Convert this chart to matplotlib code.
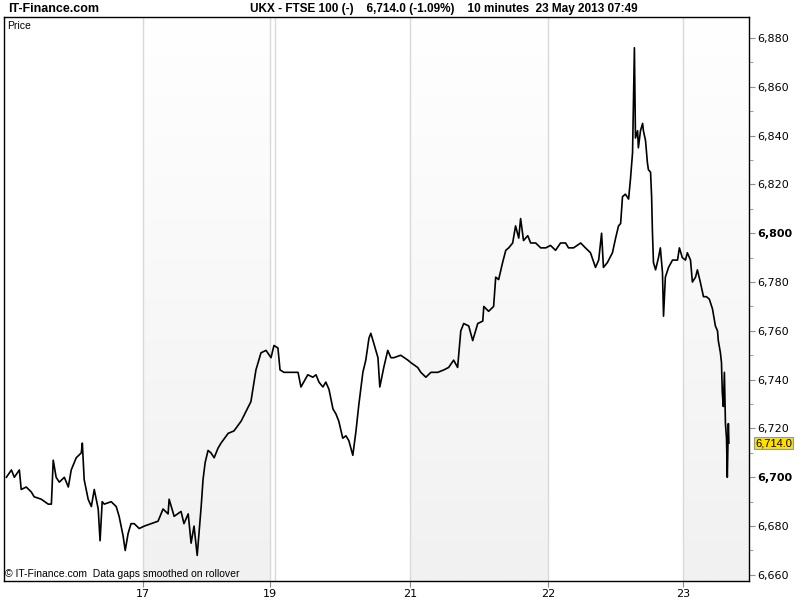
import matplotlib
matplotlib.use("Agg")
import matplotlib.pyplot as plt
import matplotlib.transforms as mtransforms
from matplotlib.colors import LinearSegmentedColormap
from matplotlib.ticker import MultipleLocator, FuncFormatter
import numpy as np

# UKX 10-minute bars, x = bar number in trading time, y = price
bars = [0.4, 2.3, 3.4, 5.3, 6.0, 7.9, 9.8, 10.9, 13.6, 16.2, 17.4, 18.1, 19.2, 20.4,
        22.3, 23.8, 24.9, 26.8, 28.7, 29.1, 29.8, 31.3, 32.5, 33.6, 35.1, 35.8, 36.6,
        37.4, 40.0, 41.9, 43.0, 44.5, 45.3, 46.4, 47.5, 48.7, 50.6,
        52.5, 55.1, 57.7, 59.6, 61.5, 61.9, 63.8, 66.4, 67.5, 69.1, 70.2, 71.3, 72.5,
        74.0, 74.7, 75.5, 76.6, 77.7, 78.9, 80.4, 81.5, 84.2, 86.4, 89.1, 92.8, 94.7,
        96.6, 98.5,
        100.4, 101.5,
        103.0, 103.8, 105.3, 107.9, 110.6, 111.7, 114.3, 116.2, 117.4, 118.5, 120.0,
        121.1, 122.3, 123.8, 124.9, 126.0, 127.5, 128.7, 129.8, 131.3, 132.5, 133.6,
        135.1, 136.2, 137.4, 138.1, 139.2, 140.8, 141.5, 143.0, 144.5, 145.7, 146.8,
        149.4, 152.1,
        153.2, 155.8, 157.0, 158.9, 160.8, 163.4, 165.7, 167.5, 169.4, 170.9, 172.1,
        173.2, 175.1, 176.6, 178.5, 180.4, 180.8, 182.6, 184.5, 185.3, 186.4, 187.9,
        189.1, 190.2, 191.7, 192.8, 194.0, 194.7, 195.8, 197.4, 198.5, 200.4, 202.3,
        204.2,
        206.0, 207.9, 209.8, 211.7, 212.8, 214.7, 217.4, 219.2, 221.1, 223.0, 224.2,
        225.3, 226.0, 227.5, 229.4, 230.6, 231.7, 232.5, 233.2, 234.3, 235.5, 236.2,
        237.0, 237.4, 237.7, 238.1, 238.9, 239.2, 240.0, 240.8, 241.1, 241.9, 242.6,
        243.0, 243.8, 244.2, 244.5, 244.9, 245.7, 246.8, 247.5, 248.3, 248.7, 249.4,
        250.6, 252.1, 254.0, 254.7, 255.8,
        257.0, 257.7, 258.9, 259.6, 260.8, 261.5, 262.6, 263.8, 264.9, 266.0, 267.2,
        268.3, 269.1, 269.4, 270.2, 270.6, 270.9, 271.3, 271.7, 272.1, 272.5, 272.8,
        273.2, 273.4]
price = [6700, 6703, 6700, 6703, 6695, 6696, 6694, 6692, 6691, 6689, 6689, 6707, 6700, 6698,
         6700, 6696, 6703, 6708, 6710, 6714, 6699, 6691, 6688, 6695, 6687, 6674, 6690,
         6689, 6690, 6688, 6684, 6676, 6670, 6677, 6681, 6681, 6679,
         6680, 6681, 6682, 6687, 6685, 6691, 6684, 6686, 6681, 6685, 6673, 6680, 6668,
         6688, 6699, 6706, 6711, 6710, 6708, 6712, 6714, 6718, 6719, 6723, 6731, 6744,
         6751, 6752,
         6749, 6754,
         6753, 6744, 6743, 6743, 6743, 6737, 6742, 6741, 6742, 6739, 6737,
         6739, 6736, 6728, 6726, 6723, 6716, 6717, 6715, 6709, 6719, 6730,
         6743, 6748, 6757, 6759, 6755, 6749, 6737, 6745, 6752, 6749, 6749,
         6750, 6748,
         6747, 6745, 6743, 6741, 6743, 6743, 6744, 6745, 6748, 6745, 6760,
         6763, 6762, 6756, 6763, 6764, 6770, 6768, 6770, 6782, 6781, 6788,
         6793, 6794, 6796, 6803, 6798, 6806, 6797, 6799, 6796, 6796, 6794,
         6794,
         6795, 6793, 6796, 6796, 6794, 6794, 6796, 6794, 6792, 6786, 6789,
         6800, 6786, 6788, 6792, 6798, 6803, 6804, 6815, 6816, 6814, 6822,
         6833, 6859, 6876, 6839, 6842, 6835, 6842, 6845, 6842, 6838, 6829,
         6826, 6825, 6815, 6801, 6788, 6785, 6790, 6794, 6784, 6766, 6782,
         6786, 6789, 6789, 6794, 6790,
         6789, 6792, 6789, 6780, 6782, 6785, 6780, 6774, 6774, 6773, 6769,
         6762, 6760, 6756, 6751, 6747, 6735, 6729, 6743, 6722, 6716, 6700,
         6722, 6714]

# first bar of each trading day (May 2013)
day_labels = ["16", "17", "19", "20", "21", "22", "23"]
day_start = [0, 52, 100, 102, 153, 205, 256]
day_shaded = [False, True, False, False, True, False, True]
tick_days = ["17", "19", "21", "22", "23"]
last_price = 6714.0
x_end = 281
y_lo, y_hi = 6657.5, 6888.6

fig = plt.figure(figsize=(8, 6), dpi=100)
ax = fig.add_axes([4 / 800, 19 / 600, 745 / 800, 564 / 600])

# alternating day background, shaded days fade to grey at the bottom
shade = LinearSegmentedColormap.from_list("shade", ["#ffffff", "#f1f1f1"])
grad = np.linspace(0, 1, 256).reshape(-1, 1)
bounds = day_start + [x_end]
for i, lab in enumerate(day_labels):
    if day_shaded[i]:
        ax.imshow(grad, cmap=shade, aspect="auto", origin="upper",
                  extent=[bounds[i], bounds[i + 1], y_lo, y_hi], zorder=0)
for s in day_start[1:]:
    ax.axvline(s, color="#d9d9d9", lw=1.0, zorder=1)

ax.plot(bars, price, color="black", lw=1.2, zorder=3)

ax.set_xlim(-0.5, x_end)
ax.set_ylim(y_lo, y_hi)

# x ticks at day boundaries
ax.set_xticks([day_start[day_labels.index(d)] for d in tick_days])
ax.set_xticklabels(tick_days)
ax.tick_params(axis="x", direction="out", length=4, color="#8090a0",
               labelsize=8, pad=2)

# y axis on the right
ax.yaxis.tick_right()
ax.yaxis.set_major_locator(MultipleLocator(20))
ax.yaxis.set_minor_locator(MultipleLocator(10))
ax.yaxis.set_major_formatter(FuncFormatter(lambda v, p: f"{v:,.0f}"))
ax.tick_params(axis="y", which="both", direction="out", color="#8090a0",
               labelsize=8, pad=2)
ax.tick_params(axis="y", which="major", length=4)
ax.tick_params(axis="y", which="minor", length=3)
fig.canvas.draw()
for t, v in zip(ax.get_yticklabels(), ax.get_yticks()):
    if round(v) % 100 == 0:
        t.set_fontweight("bold")

for sp in ax.spines.values():
    sp.set_color("black")
    sp.set_linewidth(1.0)

# texts
fig.text(8 / 800, 1 - 9 / 600, "IT-Finance.com", fontsize=9, fontweight="bold",
         va="center", ha="left", family="Liberation Sans")
fig.text(250 / 800, 1 - 9 / 600,
         "UKX - FTSE 100 (-)    6,714.0 (-1.09%)    10 minutes  23 May 2013 07:49",
         fontsize=8.5, fontweight="bold", va="center", ha="left", family="Liberation Sans")
ax.text(0.004, 0.984, "Price", transform=ax.transAxes, fontsize=7.5,
        va="center", ha="left", family="Liberation Sans")
ax.text(0.002, 0.012, "\u00a9 IT-Finance.com  Data gaps smoothed on rollover",
        transform=ax.transAxes, fontsize=7.5, va="center", ha="left",
        family="Liberation Sans")

trans = mtransforms.blended_transform_factory(ax.transAxes, ax.transData)
ax.text(1.008, last_price, f"{last_price:,.1f}", transform=trans, fontsize=8,
        va="center", ha="left", family="Liberation Sans",
        bbox=dict(boxstyle="square,pad=0.12", fc="#ffe000", ec="#8a9bb0", lw=0.8))

fig.savefig("out.png", dpi=100)
